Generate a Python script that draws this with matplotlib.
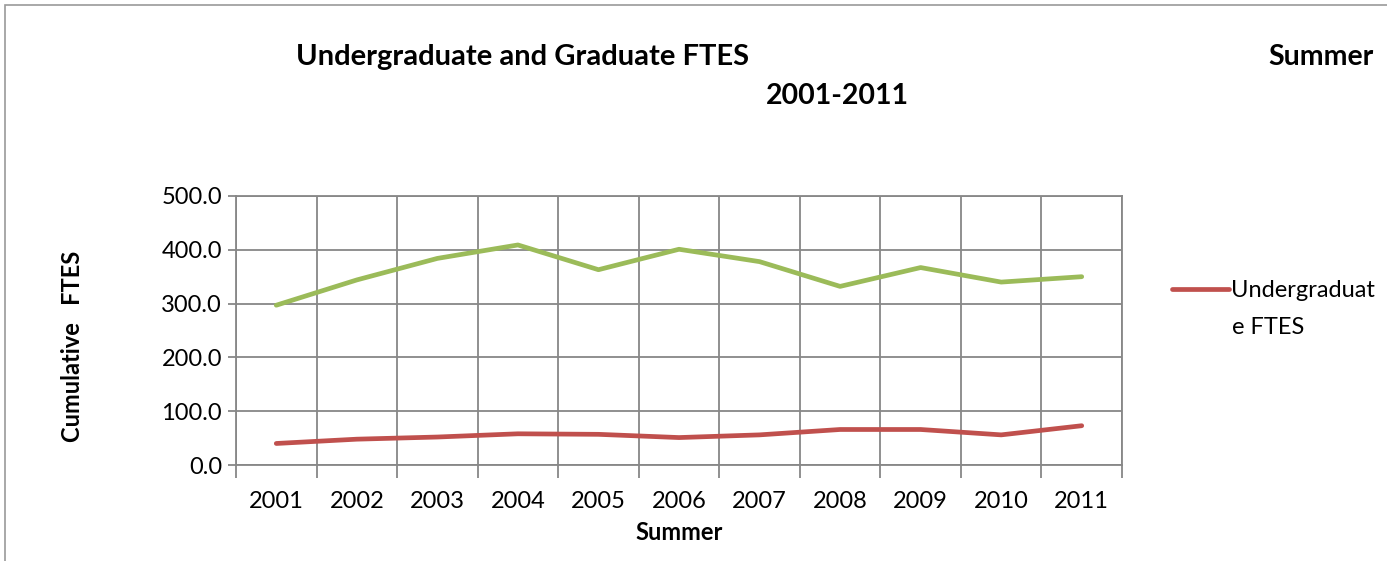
import numpy as np
import matplotlib.pyplot as plt
from matplotlib.patches import Rectangle

years = ['2001', '2002', '2003', '2004', '2005', '2006', '2007', '2008', '2009', '2010', '2011']
undergrad = [40, 48, 52, 58, 57, 51, 56, 66, 66, 56, 73]
graduate = [297, 344, 384, 409, 363, 401, 378, 332, 367, 340, 350]
yticks = [0, 100, 200, 300, 400, 500]

plt.rcParams['font.family'] = ['Lato', 'DejaVu Sans']

W, H = 1387, 561
fig = plt.figure(figsize=(W / 100, H / 100), dpi=100)
ax = fig.add_axes([236 / W, 1 - 465 / H, (1122 - 236) / W, (465 - 196) / H])

x = np.arange(len(years))
grid_c = '#878787'
line_r, = ax.plot(x, undergrad, color='#C0504D', lw=3.4, solid_capstyle='round',
                  label='Undergraduat', zorder=3)
ax.plot(x, graduate, color='#9BBB59', lw=3.4, solid_capstyle='round', zorder=3)

ax.set_xlim(-0.5, len(years) - 0.5)
ax.set_ylim(0, 500)
ax.set_yticks(yticks)
ax.set_yticklabels([f'{v:.1f}' for v in yticks], fontsize=17)
ax.set_xticks(x)
ax.set_xticklabels(years, fontsize=17)
ax.set_xticks(np.arange(-0.5, len(years)), minor=True)
ax.tick_params(axis='x', which='major', length=0, pad=19)
ax.tick_params(axis='x', which='minor', length=9, color=grid_c, width=1.3)
ax.tick_params(axis='y', length=6, color=grid_c, width=1.3, pad=4)
ax.grid(True, axis='y', color=grid_c, lw=1.3)
ax.grid(True, axis='x', which='minor', color=grid_c, lw=1.3)
for s in ax.spines.values():
    s.set_color(grid_c)
    s.set_linewidth(1.3)

ax.set_xlabel('Summer', fontsize=17, fontweight='bold', labelpad=6)
ax.set_ylabel('Cumulative   FTES', fontsize=17, fontweight='bold', labelpad=56)
ax.yaxis.label.set_y(0.44)

fig.text(523 / W, 1 - 57 / H, 'Undergraduate and Graduate FTES', fontsize=21, fontweight='bold',
         ha='center', va='center')
fig.text(1321 / W, 1 - 57 / H, 'Summer', fontsize=20.5, fontweight='bold', ha='center', va='center')
fig.text(837 / W, 1 - 96 / H, '2001-2011', fontsize=20.5, fontweight='bold', ha='center', va='center')

# legend entry wraps onto a second line, handle stays on the first
fig.legend(handles=[line_r], loc='upper left', bbox_to_anchor=(1172 / W, 1 - 280 / H),
           frameon=False, fontsize=17, handlelength=2.4, handletextpad=0.1,
           borderaxespad=0, borderpad=0)
fig.text(1232 / W, 1 - 327 / H, 'e FTES', fontsize=17, ha='left', va='center')

fig.patches.append(Rectangle((5 / W, -0.1), 1.2, 1 - 5 / H + 0.1, transform=fig.transFigure,
                             fill=False, edgecolor='#9a9a9a', lw=1.2))

fig.savefig('out.png', dpi=100)
